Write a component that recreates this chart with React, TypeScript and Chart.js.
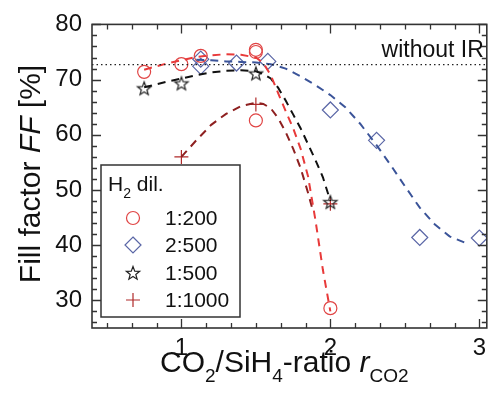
import React, { useEffect, useRef } from 'react';
import { Chart, registerables } from 'chart.js';

Chart.register(...registerables);

// Axis ranges and tick labels
const xMin = 0.4;
const xMax = 3.05;
const yMin = 25;
const yMax = 80;
const xTickLabels = [1, 2, 3];
const yTickLabels = [30, 40, 50, 60, 70, 80];
const withoutIRLevel = 72.7;

// Measured points (H2 dilution series)
const dil200X = [0.75, 1.0, 1.13, 1.5, 1.5, 1.5, 2.0];
const dil200Y = [71.4, 72.8, 74.3, 75.4, 75.0, 62.6, 28.6];
const dil2of500X = [1.13, 1.13, 1.37, 1.58, 2.0, 2.31, 2.6, 3.0];
const dil2of500Y = [73.7, 72.4, 73.0, 73.3, 64.5, 59.0, 41.4, 41.3];
const dil500X = [0.75, 1.0, 1.5, 2.0];
const dil500Y = [68.4, 69.3, 71.1, 47.8];
const dil1000X = [1.0, 1.5, 2.0];
const dil1000Y = [56.0, 65.5, 47.5];

// Dashed guide curves
const fit200X = [0.75, 0.9, 1.0, 1.1, 1.2, 1.3, 1.4, 1.5, 1.55, 1.6, 1.65, 1.7, 1.75, 1.8, 1.85, 1.9, 1.95, 2.0];
const fit200Y = [71.8, 72.9, 73.5, 74.1, 74.4, 74.6, 74.5, 74.0, 73.0, 70.8, 67.5, 64.3, 61.2, 57.5, 52.5, 44.5, 35.5, 28.0];
const fit2of500X = [1.1, 1.2, 1.3, 1.4, 1.5, 1.6, 1.7, 1.8, 1.9, 2.0, 2.1, 2.2, 2.3, 2.4, 2.5, 2.6, 2.7, 2.8, 2.9];
const fit2of500Y = [73.6, 73.5, 73.3, 73.2, 73.1, 72.8, 72.0, 70.6, 69.0, 67.2, 65.0, 62.0, 58.5, 54.7, 50.7, 46.8, 43.8, 41.6, 40.5];
const fit500X = [0.75, 0.9, 1.0, 1.1, 1.2, 1.3, 1.4, 1.5, 1.55, 1.6, 1.65, 1.7, 1.75, 1.8, 1.85, 1.9, 1.95, 2.0];
const fit500Y = [68.6, 69.6, 70.2, 70.8, 71.3, 71.6, 71.7, 71.5, 71.0, 70.2, 68.5, 66.2, 63.7, 61.2, 58.3, 55.4, 52.3, 48.0];
const fit1000X = [1.0, 1.1, 1.2, 1.3, 1.4, 1.5, 1.55, 1.6, 1.65, 1.7, 1.75, 1.8, 1.85, 1.88];
const fit1000Y = [56.0, 59.0, 61.8, 63.8, 65.2, 65.8, 65.6, 64.8, 63.0, 60.5, 57.5, 54.0, 49.5, 46.5];

const legendLabels = ['1:200', '2:500', '1:500', '1:1000'];

const C_RED = '#e04444';
const C_BLUE = '#5a66a6';
const C_STAR = '#222222';
const C_PLUS = '#b02a2a';
const L_RED = '#e83a3a';
const L_DARKRED = '#8e2020';
const L_BLACK = '#111111';
const L_BLUE = '#3b5499';

const FONT = '"Liberation Sans", Arial, Helvetica, sans-serif';

const pts = (xs: number[], ys: number[]) => xs.map((x, i) => ({ x, y: ys[i] }));

function makeStar(r: number, color: string) {
  const size = Math.ceil(r * 2 + 4);
  const c = document.createElement('canvas');
  c.width = size;
  c.height = size;
  const g = c.getContext('2d')!;
  g.strokeStyle = color;
  g.lineWidth = 1.2;
  g.beginPath();
  for (let i = 0; i < 10; i++) {
    const ang = -Math.PI / 2 + (i * Math.PI) / 5;
    const rr = i % 2 === 0 ? r : r * 0.42;
    const px = size / 2 + rr * Math.cos(ang);
    const py = size / 2 + 0.5 + rr * Math.sin(ang);
    if (i === 0) g.moveTo(px, py);
    else g.lineTo(px, py);
  }
  g.closePath();
  g.stroke();
  return c;
}

type Part = { t: string; size: number; italic?: boolean; dy?: number };

function richWidth(ctx: CanvasRenderingContext2D, parts: Part[]) {
  let w = 0;
  for (const p of parts) {
    ctx.font = `${p.italic ? 'italic ' : ''}${p.size}px ${FONT}`;
    w += ctx.measureText(p.t).width;
  }
  return w;
}

function drawRich(ctx: CanvasRenderingContext2D, parts: Part[], x: number, y: number) {
  let cx = x;
  ctx.textAlign = 'left';
  ctx.textBaseline = 'alphabetic';
  for (const p of parts) {
    ctx.font = `${p.italic ? 'italic ' : ''}${p.size}px ${FONT}`;
    ctx.fillText(p.t, cx, y + (p.dy || 0));
    cx += ctx.measureText(p.t).width;
  }
}

export default function App() {
  const ref = useRef<HTMLCanvasElement | null>(null);

  useEffect(() => {
    document.body.style.margin = '0';
    const canvas = ref.current;
    if (!canvas) return;
    const starImg = makeStar(7, C_STAR);

    const overlay = {
      id: 'overlay',
      afterDatasetsDraw(chart: any) {
        const ctx: CanvasRenderingContext2D = chart.ctx;
        const a = chart.chartArea;
        const xs = chart.scales.x;
        const ys = chart.scales.y;
        ctx.save();
        // frame
        ctx.strokeStyle = '#333';
        ctx.lineWidth = 1.6;
        ctx.strokeRect(a.left, a.top, a.right - a.left, a.bottom - a.top);
        // ticks
        ctx.lineWidth = 1.3;
        ctx.beginPath();
        for (let k = 3; k <= 18; k++) {
          const v = k / 6;
          const px = Math.round(xs.getPixelForValue(v)) + 0.5;
          const len = k % 6 === 0 ? 9 : 5;
          ctx.moveTo(px, a.bottom);
          ctx.lineTo(px, a.bottom - len);
          ctx.moveTo(px, a.top);
          ctx.lineTo(px, a.top + len);
        }
        for (let v = 26; v <= 80; v += 2) {
          const py = Math.round(ys.getPixelForValue(v)) + 0.5;
          const len = v % 10 === 0 ? 9 : 5;
          ctx.moveTo(a.left, py);
          ctx.lineTo(a.left + len, py);
          ctx.moveTo(a.right, py);
          ctx.lineTo(a.right - len, py);
        }
        ctx.stroke();

        // "without IR"
        ctx.fillStyle = '#111';
        ctx.font = `23px ${FONT}`;
        ctx.textAlign = 'right';
        ctx.textBaseline = 'alphabetic';
        ctx.fillText('without IR', a.right - 3, 57);

        // legend box
        const bx = 101, by = 165, bw = 139, bh = 152;
        ctx.fillStyle = '#fff';
        ctx.fillRect(bx, by, bw, bh);
        ctx.strokeStyle = '#333';
        ctx.lineWidth = 1.5;
        ctx.strokeRect(bx, by, bw, bh);
        ctx.fillStyle = '#111';
        drawRich(ctx, [
          { t: 'H', size: 21 },
          { t: '2', size: 14, dy: 7 },
          { t: ' dil.', size: 21 },
        ], 108, 191);
        const rowsY = [218, 245, 273, 300];
        const mx = 133;
        // circle
        ctx.strokeStyle = C_RED;
        ctx.lineWidth = 1.2;
        ctx.beginPath();
        ctx.arc(mx, rowsY[0], 6.5, 0, Math.PI * 2);
        ctx.stroke();
        // diamond
        ctx.strokeStyle = C_BLUE;
        ctx.beginPath();
        ctx.moveTo(mx, rowsY[1] - 8);
        ctx.lineTo(mx + 8, rowsY[1]);
        ctx.lineTo(mx, rowsY[1] + 8);
        ctx.lineTo(mx - 8, rowsY[1]);
        ctx.closePath();
        ctx.stroke();
        // star
        ctx.drawImage(starImg, mx - starImg.width / 2, rowsY[2] - starImg.height / 2);
        // plus
        ctx.strokeStyle = C_PLUS;
        ctx.beginPath();
        ctx.moveTo(mx - 7, rowsY[3]);
        ctx.lineTo(mx + 7, rowsY[3]);
        ctx.moveTo(mx, rowsY[3] - 7);
        ctx.lineTo(mx, rowsY[3] + 7);
        ctx.stroke();
        ctx.fillStyle = '#111';
        ctx.font = `21px ${FONT}`;
        ctx.textAlign = 'left';
        ctx.textBaseline = 'middle';
        legendLabels.forEach((l, i) => ctx.fillText(l, 165, rowsY[i] + 1));

        // axis titles
        ctx.fillStyle = '#111';
        drawRich(ctx, [
          { t: 'CO', size: 30 },
          { t: '2', size: 19, dy: 10 },
          { t: '/SiH', size: 30 },
          { t: '4', size: 19, dy: 10 },
          { t: '-ratio ', size: 30 },
          { t: 'r', size: 30, italic: true },
          { t: 'CO2', size: 19, dy: 10 },
        ], 160, 372);
        const yParts: Part[] = [
          { t: 'Fill factor ', size: 30 },
          { t: 'FF', size: 30, italic: true },
          { t: ' [%]', size: 30 },
        ];
        const w = richWidth(ctx, yParts);
        ctx.save();
        ctx.translate(40, 174);
        ctx.rotate(-Math.PI / 2);
        drawRich(ctx, yParts, -w / 2, 0);
        ctx.restore();
        ctx.restore();
      },
    };

    const curve = (xsA: number[], ysA: number[], color: string) => ({
      data: pts(xsA, ysA),
      showLine: true,
      borderColor: color,
      borderWidth: 2,
      borderDash: [8, 6],
      pointRadius: 0,
      fill: false,
      tension: 0,
    });

    const marks = (xsA: number[], ysA: number[], style: any, color: string, radius: number) => ({
      data: pts(xsA, ysA),
      showLine: false,
      pointStyle: style,
      pointRadius: radius,
      pointBorderColor: color,
      pointBackgroundColor: 'rgba(0,0,0,0)',
      pointBorderWidth: 1.2,
      borderColor: color,
      backgroundColor: 'rgba(0,0,0,0)',
    });

    const chart = new Chart(canvas, {
      type: 'scatter',
      data: {
        datasets: [
          {
            data: [{ x: xMin, y: withoutIRLevel }, { x: xMax, y: withoutIRLevel }],
            showLine: true,
            borderColor: '#222',
            borderWidth: 1.3,
            borderDash: [1.5, 3],
            pointRadius: 0,
          } as any,
          curve(fit200X, fit200Y, L_RED),
          curve(fit1000X, fit1000Y, L_DARKRED),
          curve(fit500X, fit500Y, L_BLACK),
          curve(fit2of500X, fit2of500Y, L_BLUE),
          marks(dil200X, dil200Y, 'circle', C_RED, 6.5),
          marks(dil2of500X, dil2of500Y, 'rectRot', C_BLUE, 8),
          marks(dil500X, dil500Y, starImg, C_STAR, 7),
          marks(dil1000X, dil1000Y, 'cross', C_PLUS, 7),
        ],
      },
      options: {
        animation: false,
        responsive: false,
        devicePixelRatio: 1,
        layout: { padding: { left: 0, top: 24, right: 6, bottom: 0 } },
        plugins: { legend: { display: false }, tooltip: { enabled: false } },
        scales: {
          x: {
            type: 'linear',
            min: xMin,
            max: xMax,
            grid: { display: false, drawTicks: false },
            border: { display: false },
            afterBuildTicks: (s: any) => {
              s.ticks = xTickLabels.map((v) => ({ value: v }));
            },
            afterFit: (s: any) => {
              s.height = 73;
            },
            ticks: {
              color: '#111',
              font: { family: FONT, size: 24 },
              padding: 6,
              maxRotation: 0,
              autoSkip: false,
              callback: (v: any) => String(v),
            },
          },
          y: {
            type: 'linear',
            min: yMin,
            max: yMax,
            grid: { display: false, drawTicks: false },
            border: { display: false },
            afterBuildTicks: (s: any) => {
              s.ticks = yTickLabels.map((v) => ({ value: v }));
            },
            afterFit: (s: any) => {
              s.width = 92;
            },
            ticks: {
              color: '#111',
              font: { family: FONT, size: 24 },
              padding: 10,
              autoSkip: false,
              callback: (v: any) => String(v),
            },
          },
        },
      },
      plugins: [overlay],
    } as any);

    return () => chart.destroy();
  }, []);

  return (
    <div style={{ width: 496, height: 401 }}>
      <canvas ref={ref} width={496} height={401} style={{ display: 'block' }} />
    </div>
  );
}
